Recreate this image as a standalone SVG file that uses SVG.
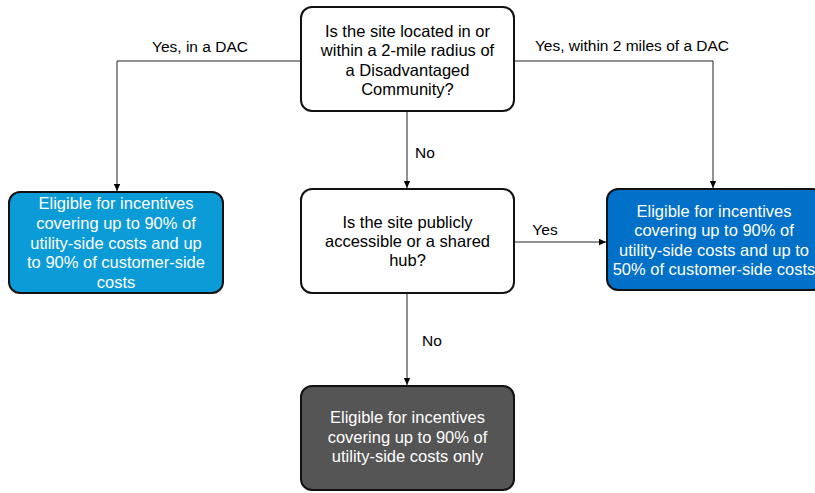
<svg xmlns="http://www.w3.org/2000/svg" width="815" height="493" viewBox="0 0 815 493">
<defs>
<marker id="arr" markerWidth="8" markerHeight="8" refX="7" refY="4" orient="auto" markerUnits="userSpaceOnUse">
<path d="M0,0.8 L7,4 L0,7.2 Z" fill="#000"/>
</marker>
<style>
.box{stroke:#111;stroke-width:2;}
.t{font-family:"Liberation Sans",Arial,sans-serif;font-size:16.5px;text-anchor:middle;}
.lbl{font-family:"Liberation Sans",Arial,sans-serif;font-size:15.5px;text-anchor:middle;fill:#000;}
.w{fill:#fff;}
.k{fill:#000;}
.c{fill:none;stroke:#222;stroke-width:1;marker-end:url(#arr);}
</style>
</defs>
<rect width="815" height="493" fill="#fff"/>
<g id="connectors">
<polyline class="c" points="301,61 117,61 117,191"/>
<polyline class="c" points="514,61 713,61 713,188"/>
<line class="c" x1="407" y1="112" x2="407" y2="188"/>
<line class="c" x1="514" y1="242" x2="606" y2="242"/>
<line class="c" x1="407" y1="293" x2="407" y2="385"/>
<text class="lbl" x="200" y="52">Yes, in a DAC</text>
<text class="lbl" x="632" y="51">Yes, within 2 miles of a DAC</text>
<text class="lbl" x="425" y="158">No</text>
<text class="lbl" x="545" y="235">Yes</text>
<text class="lbl" x="432" y="346">No</text>
</g>
<g id="q1">
<rect class="box" x="301" y="7" width="213" height="104" rx="11" fill="#fff"/>
<text class="t k" x="407.5" y="36.5">Is the site located in or</text>
<text class="t k" x="407.5" y="56">within a 2-mile radius of</text>
<text class="t k" x="407.5" y="75.5">a Disadvantaged</text>
<text class="t k" x="407.5" y="95">Community?</text>
</g>
<g id="dac">
<rect class="box" x="9" y="192" width="214" height="101" rx="11" fill="#0b9bd6"/>
<text class="t w" x="116" y="209.3">Eligible for incentives</text>
<text class="t w" x="116" y="229">covering up to 90% of</text>
<text class="t w" x="116" y="248.5">utility-side costs and up</text>
<text class="t w" x="116" y="268">to 90% of customer-side</text>
<text class="t w" x="116" y="287.5">costs</text>
</g>
<g id="near">
<rect class="box" x="607" y="189" width="216" height="101" rx="11" fill="#0070c9"/>
<text class="t w" x="714" y="216.7">Eligible for incentives</text>
<text class="t w" x="714" y="236">covering up to 90% of</text>
<text class="t w" x="714" y="255.7">utility-side costs and up to</text>
<text class="t w" x="714" y="275">50% of customer-side costs</text>
</g>
<g id="q2">
<rect class="box" x="301" y="189" width="213" height="104" rx="11" fill="#fff"/>
<text class="t k" x="407.5" y="227.7">Is the site publicly</text>
<text class="t k" x="407.5" y="247">accessible or a shared</text>
<text class="t k" x="407.5" y="266.3">hub?</text>
</g>
<g id="only">
<rect class="box" x="301" y="386" width="213" height="104" rx="11" fill="#555"/>
<text class="t w" x="407.5" y="423.3">Eligible for incentives</text>
<text class="t w" x="407.5" y="442.8">covering up to 90% of</text>
<text class="t w" x="407.5" y="462.3">utility-side costs only</text>
</g>
</svg>
